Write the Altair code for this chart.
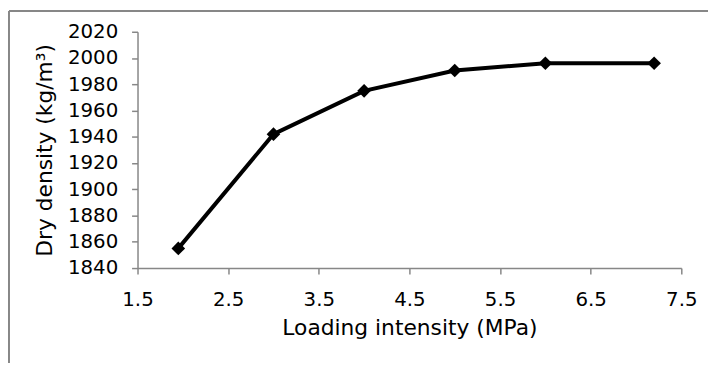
import altair as alt
import pandas as pd

# Data
loading = [1.95, 3, 4, 5, 6, 7.2]
density = [1855, 1942, 1975, 1990.5, 1996, 1996]
x_ticks = [1.5, 2.5, 3.5, 4.5, 5.5, 6.5, 7.5]
y_ticks = [1840, 1860, 1880, 1900, 1920, 1940, 1960, 1980, 2000, 2020]

df = pd.DataFrame({"load": loading, "dens": density})

W, H = 550, 239
PL, PT, PR, PB = 131, 22, 27, 96
GRAY = "#878787"
FONT = "DejaVu Sans"

x_enc = alt.X(
    "load:Q",
    scale=alt.Scale(domain=[1.5, 7.5], nice=False, zero=False),
    axis=alt.Axis(values=x_ticks, format=".1f", title="Loading intensity (MPa)",
                  labelPadding=16, titlePadding=8, labelFlush=False),
)
y_enc = alt.Y(
    "dens:Q",
    scale=alt.Scale(domain=[1840, 2020], nice=False, zero=False),
    axis=alt.Axis(values=y_ticks, format="d", title="Dry density (kg/m³)",
                  labelPadding=14, titlePadding=11, labelFlush=False),
)

line = alt.Chart(df).mark_line(
    color="black", strokeWidth=4,
    point=alt.OverlayMarkDef(shape="diamond", size=190, filled=True, color="black", opacity=1),
).encode(x=x_enc, y=y_enc)

frame_data = alt.Data(values=[{"a": 1}])
top_border = alt.Chart(frame_data).mark_rule(color=GRAY, strokeWidth=2).encode(
    x=alt.value(-PL + 1), x2=alt.value(W + PR), y=alt.value(-PT + 1)
)
left_border = alt.Chart(frame_data).mark_rule(color=GRAY, strokeWidth=2).encode(
    x=alt.value(-PL + 1), y=alt.value(-PT + 1), y2=alt.value(H + PB)
)

chart = alt.layer(top_border, left_border, line).properties(
    width=W, height=H,
    padding={"left": PL, "top": PT, "right": PR, "bottom": PB},
    autosize=alt.AutoSizeParams(type="none"),
).configure_view(stroke=None).configure_axis(
    grid=False,
    domainColor=GRAY, domainWidth=1.5,
    tickColor=GRAY, tickWidth=1.5, tickSize=6,
    labelFont=FONT, labelFontSize=20, labelColor="black",
    titleFont=FONT, titleFontSize=22, titleColor="black", titleFontWeight="normal",
)

chart.save("out.html", embed_options={"renderer": "svg", "actions": False})
